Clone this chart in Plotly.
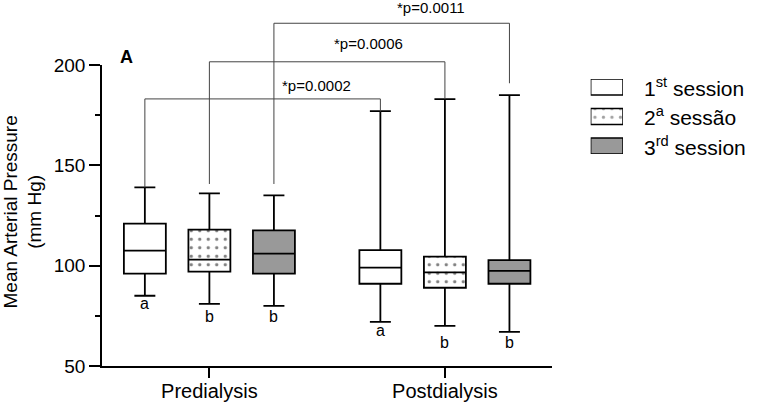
import plotly.graph_objects as go

# ---------------- data ----------------
phases = ["Predialysis", "Postdialysis"]
sessions = ["1<sup>st</sup> session", "2<sup>a</sup> sessão", "3<sup>rd</sup> session"]

# per session: values for [Predialysis, Postdialysis]
lowerfence = [[85, 72], [81, 70], [80, 67]]
q1 = [[96, 91], [97, 89], [96, 91]]
median = [[107.5, 99], [103, 96.7], [106, 97.4]]
q3 = [[121, 107.7], [118, 104.5], [117.6, 102.8]]
upperfence = [[139, 177], [136, 183], [135, 185]]

# significance letters below each box and their vertical positions (mm Hg)
letters = [["a", "a"], ["b", "b"], ["b", "b"]]
letter_y = [[80.9, 67.5], [74.6, 61.5], [74.6, 61.5]]

# pre vs post comparison brackets for each session
p_labels = ["*p=0.0002", "*p=0.0006", "*p=0.0011"]
bracket_level = [183.1, 201.6, 220.8]
bracket_left_end = [139, 140.7, 140.7]
bracket_right_end = [176.8, 183.0, 190.9]
p_label_x = [0.455, 0.677, 0.943]
p_label_y = [189.6, 210.5, 228.6]

fills = ["#ffffff", "#ffffff", "#999999"]
patterns = ["", ".", ""]

# ---------------- layout geometry ----------------
W, H = 758, 403
ML, MR, MT, MB = 102, 0, 65, 37
plot_w = 450.3
paper_w = W - ML - MR
paper_h = H - MT - MB
x_dom_end = plot_w / paper_w

boxgap, boxgroupgap = 0.178, 0.35
n = len(sessions)
offsets = [(1 - boxgap) * (-0.5 + (k + 0.5) / n) for k in range(n)]
box_w = (1 - boxgap) * (1 - boxgroupgap) / n

YMIN, YMAX = 50, 200
def ypaper(v):
    return (v - YMIN) / (YMAX - YMIN)

FONT = "Liberation Sans, Arial, sans-serif"
DOTS = dict(fgcolor="black", bgcolor="#ffffff", size=8.5, solidity=0.12)

fig = go.Figure()

# dotted fill for the patterned session (drawn below the box outlines)
for k in range(n):
    if patterns[k]:
        fig.add_trace(go.Bar(
            x=phases,
            base=q1[k],
            y=[b - a for a, b in zip(q1[k], q3[k])],
            width=box_w,
            offset=offsets[k] - box_w / 2,
            marker=dict(color="#ffffff", line=dict(width=0),
                        pattern=dict(shape=patterns[k], **DOTS)),
            showlegend=False, hoverinfo="skip", xaxis="x", yaxis="y",
        ))

for k in range(n):
    fig.add_trace(go.Box(
        name=sessions[k],
        x=phases,
        q1=q1[k], median=median[k], q3=q3[k],
        lowerfence=lowerfence[k], upperfence=upperfence[k],
        fillcolor=fills[k] if not patterns[k] else "rgba(0,0,0,0)",
        line=dict(color="black", width=1.8),
        whiskerwidth=0.5,
        boxpoints=False,
        showlegend=False,
        xaxis="x", yaxis="y",
    ))

# legend swatches in a tiny hidden subplot
fig.add_trace(go.Bar(
    x=[1] * n, y=list(range(n)), orientation="h", width=0.54,
    marker=dict(color=fills, line=dict(color="black", width=1.5),
                pattern=dict(shape=patterns, **DOTS)),
    cliponaxis=False, showlegend=False, hoverinfo="skip",
    xaxis="x2", yaxis="y2",
))

annotations = []
shapes = []

# letters
for k in range(n):
    for i in range(len(phases)):
        annotations.append(dict(
            x=i + offsets[k], y=ypaper(letter_y[k][i]), xref="x", yref="paper",
            text=letters[k][i], showarrow=False, xanchor="center", yanchor="middle",
            font=dict(family=FONT, size=16, color="black")))

# brackets
for k in range(n):
    xl = 0 + offsets[k]
    xr = 1 + offsets[k]
    lvl = ypaper(bracket_level[k])
    line = dict(color="#444444", width=1)
    shapes.append(dict(type="line", xref="x", yref="paper", x0=xl, x1=xr, y0=lvl, y1=lvl, line=line))
    shapes.append(dict(type="line", xref="x", yref="paper", x0=xl, x1=xl, y0=lvl,
                       y1=ypaper(bracket_left_end[k]), line=line))
    shapes.append(dict(type="line", xref="x", yref="paper", x0=xr, x1=xr, y0=lvl,
                       y1=ypaper(bracket_right_end[k]), line=line))
    annotations.append(dict(
        x=p_label_x[k], y=ypaper(p_label_y[k]), xref="x", yref="paper", text=p_labels[k],
        showarrow=False, xanchor="center", yanchor="middle",
        font=dict(family=FONT, size=15, color="black")))

# panel letter
annotations.append(dict(x=-0.352, y=ypaper(204), xref="x", yref="paper", text="<b>A</b>",
                        showarrow=False, xanchor="center", yanchor="middle",
                        font=dict(family=FONT, size=18, color="black")))

# y axis title
annotations.append(dict(x=(23 - ML) / paper_w, y=ypaper(126.5), xref="paper", yref="paper",
                        text="Mean Arterial Pressure<br>(mm Hg)", textangle=-90,
                        showarrow=False, xanchor="center", yanchor="middle",
                        font=dict(family=FONT, size=19, color="black")))

# legend labels
for k in range(n):
    annotations.append(dict(x=(641.7 - ML) / paper_w, y=k, xref="paper", yref="y2",
                            text=sessions[k], showarrow=False, xanchor="left",
                            yanchor="middle",
                            font=dict(family=FONT, size=21, color="black")))

fig.update_layout(
    width=W, height=H,
    margin=dict(l=ML, r=MR, t=MT, b=MB, pad=0),
    paper_bgcolor="white", plot_bgcolor="white",
    boxmode="group", boxgap=boxgap, boxgroupgap=boxgroupgap,
    showlegend=False,
    font=dict(family=FONT, color="black"),
    xaxis=dict(domain=[0, x_dom_end], range=[-0.456, 1.456], type="category",
               categoryorder="array", categoryarray=phases,
               showline=True, linecolor="black", linewidth=1.5,
               ticks="outside", ticklen=10, tickwidth=1.5, tickcolor="black",
               ticklabelstandoff=-4,
               tickfont=dict(family=FONT, size=20, color="black"),
               showgrid=False, zeroline=False, automargin=False, fixedrange=True),
    yaxis=dict(range=[YMIN, YMAX], tickvals=[50, 100, 150, 200],
               showline=True, linecolor="black", linewidth=1.5,
               ticks="outside", ticklen=11, tickwidth=1.5, tickcolor="black",
               minor=dict(tickvals=[75, 125, 175], ticks="outside", ticklen=5,
                          tickwidth=1.5, tickcolor="black", showgrid=False),
               tickfont=dict(family=FONT, size=19, color="black"),
               showgrid=False, zeroline=False, automargin=False, fixedrange=True),
    xaxis2=dict(domain=[(590.7 - ML) / paper_w, (623 - ML) / paper_w], range=[0, 1],
                visible=False, anchor="y2", fixedrange=True),
    yaxis2=dict(domain=[(366 - 154) / paper_h, (366 - 79) / paper_h],
                range=[n - 1 + 0.27, -0.27], visible=False, anchor="x2", fixedrange=True),
    shapes=shapes,
    annotations=annotations,
)

fig.write_html("out.html", config={"displayModeBar": False},
               post_script="document.body.style.margin='0px';document.body.style.overflow='hidden';")
